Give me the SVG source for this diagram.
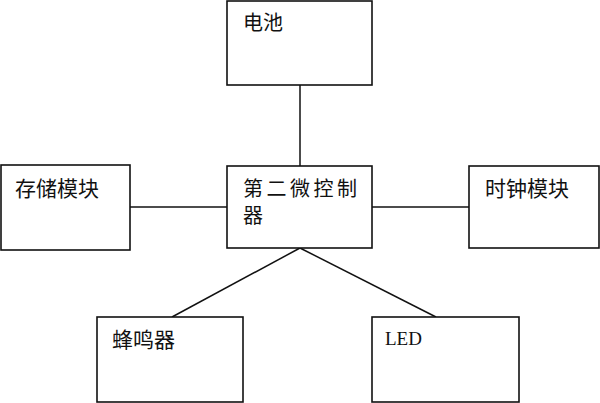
<svg xmlns="http://www.w3.org/2000/svg" width="600" height="403" viewBox="0 0 600 403">
<style>
.box{fill:#fff;stroke:#111;stroke-width:1.6}
.t{font-family:"Noto Sans CJK SC","Noto Sans",sans-serif;font-size:20px;fill:#111}
.e{font-family:"Liberation Serif",serif;font-size:19px;fill:#111}
.c{stroke:#111;stroke-width:1.5;fill:none}
</style>
<rect width="600" height="403" fill="#fff"/>
<g id="connectors">
<line class="c" x1="300" y1="85" x2="300" y2="166"/>
<line class="c" x1="130" y1="207" x2="227" y2="207"/>
<line class="c" x1="372" y1="207" x2="469" y2="207"/>
<line class="c" x1="300" y1="248" x2="172" y2="317"/>
<line class="c" x1="300" y1="248" x2="436" y2="317"/>
</g>
<g id="battery"><rect class="box" x="227" y="1" width="145" height="84"/><text class="t" x="243" y="30">电池</text></g>
<g id="mcu"><rect class="box" x="227" y="166" width="145" height="82"/><text class="t" x="243" y="196" letter-spacing="3.5">第二微控制</text><text class="t" x="243" y="223">器</text></g>
<g id="storage"><rect class="box" x="1" y="165" width="129" height="85"/><text class="t" x="15" y="196" style="font-size:21px">存储模块</text></g>
<g id="clock"><rect class="box" x="469" y="166" width="130" height="82"/><text class="t" x="485" y="196" style="font-size:21px">时钟模块</text></g>
<g id="buzzer"><rect class="box" x="97" y="317" width="146" height="85"/><text class="t" x="112" y="347" style="font-size:21px">蜂鸣器</text></g>
<g id="led"><rect class="box" x="372" y="317" width="147" height="85"/><text class="e" x="385" y="345">LED</text></g>
</svg>
